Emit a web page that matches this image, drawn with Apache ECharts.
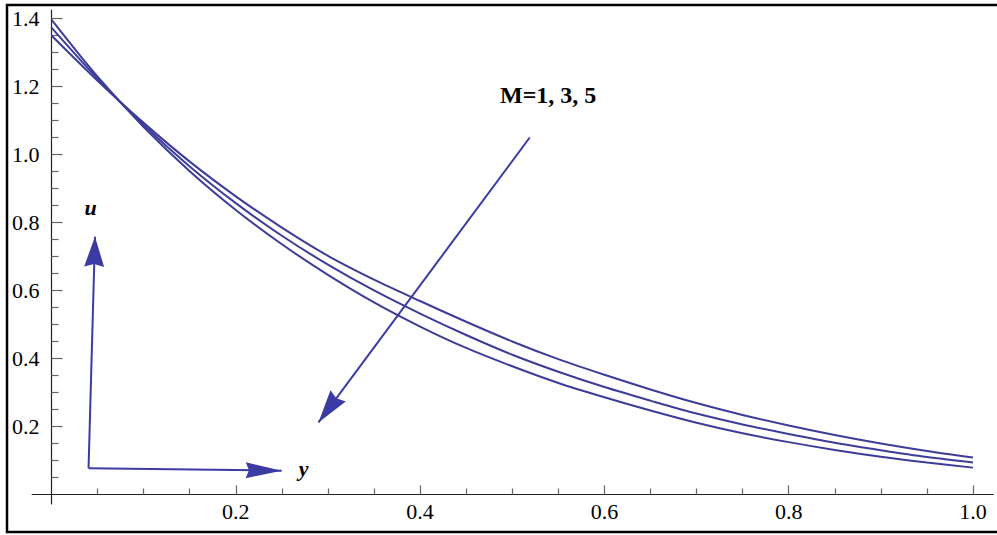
<!DOCTYPE html>
<html><head><meta charset="utf-8">
<script src="https://cdn.jsdelivr.net/npm/echarts@6/dist/echarts.min.js"></script>
<style>html,body{margin:0;padding:0;background:#fff}#c{width:997px;height:535px}</style>
</head><body><div id="c"></div>
<script>
// ---- data ----
const yPos = [0, 0.05, 0.1, 0.15, 0.2, 0.25, 0.3, 0.35, 0.4, 0.45, 0.5, 0.55, 0.6, 0.65, 0.7, 0.75, 0.8, 0.85, 0.9, 0.95, 1.0];
const uM1 = [1.350, 1.217, 1.093, 0.979, 0.877, 0.785, 0.702, 0.632, 0.569, 0.508, 0.450, 0.398, 0.352, 0.309, 0.269, 0.234, 0.203, 0.175, 0.150, 0.128, 0.109];
const uM3 = [1.373, 1.223, 1.087, 0.965, 0.857, 0.761, 0.676, 0.600, 0.532, 0.469, 0.411, 0.361, 0.316, 0.276, 0.238, 0.206, 0.178, 0.152, 0.130, 0.110, 0.094];
const uM5 = [1.397, 1.229, 1.081, 0.951, 0.837, 0.736, 0.646, 0.565, 0.494, 0.431, 0.377, 0.328, 0.286, 0.247, 0.211, 0.180, 0.154, 0.131, 0.111, 0.094, 0.079];

const xMajorTicks = [0.2, 0.4, 0.6, 0.8, 1.0];
const xMinorTicks = [0.05, 0.1, 0.15, 0.25, 0.3, 0.35, 0.45, 0.5, 0.55, 0.65, 0.7, 0.75, 0.85, 0.9, 0.95];
const yMajorTicks = [0.2, 0.4, 0.6, 0.8, 1.0, 1.2, 1.4];
const yMinorTicks = [0.05, 0.1, 0.15, 0.25, 0.3, 0.35, 0.45, 0.5, 0.55, 0.65, 0.7, 0.75, 0.85, 0.9, 0.95, 1.05, 1.1, 1.15, 1.25, 1.3, 1.35];

// annotation arrows (data coordinates): [from, to]
const arrowM = [[0.519, 1.05], [0.2897, 0.212]];
const arrowU = [[0.0402, 0.077], [0.0472, 0.758]];
const arrowY = [[0.0402, 0.077], [0.2498, 0.070]];
const labelM = {text: 'M=1, 3, 5', at: [0.539, 1.174]};
const labelU = {text: 'u', at: [0.0425, 0.845]};
const labelY = {text: 'y', at: [0.2735, 0.075]};

const xRange = [-0.021, 1.022];
const yRange = [-0.028, 1.425];

const lineColor = '#3d3d99';
const arrowColor = '#3b3ba3';
const serif = 'Liberation Serif';
const headPath = 'path://M10 0L20 33L10 30L0 33Z';

const chart = echarts.init(document.getElementById('c'), null, {renderer: 'svg'});
const fmt = v => Number(v).toFixed(1);

function arrowItem(seg, w, h) {
  return [
    {coord: seg[0], symbol: 'none'},
    {coord: seg[1], symbol: headPath, symbolSize: [w, h], symbolOffset: [0, h / 2]}
  ];
}
function textPoint(lbl, size, weight, style) {
  return {
    coord: lbl.at, symbol: 'circle', symbolSize: 0,
    label: {show: true, position: 'inside', formatter: lbl.text, color: '#000',
      fontFamily: serif, fontSize: size, fontWeight: weight, fontStyle: style}
  };
}
function curve(name, vals) {
  return {name: name, type: 'line', xAxisIndex: 0, yAxisIndex: 0, showSymbol: false, smooth: 0.3,
    data: yPos.map((x, i) => [x, vals[i]]), lineStyle: {color: lineColor, width: 2}, itemStyle: {color: lineColor}};
}

const s1 = curve('M=1', uM1);
s1.markLine = {silent: true, symbol: ['none', 'arrow'], label: {show: false},
  lineStyle: {color: arrowColor, width: 2, type: 'solid'}, itemStyle: {color: arrowColor},
  emphasis: {disabled: true},
  data: [arrowItem(arrowM, 19, 33), arrowItem(arrowU, 20, 30), arrowItem(arrowY, 16, 36)]};
s1.markPoint = {silent: true, data: [textPoint(labelM, 24, 'bold', 'normal'), textPoint(labelU, 22, 'bold', 'italic'), textPoint(labelY, 22, 'bold', 'italic')]};

const option = {
  animation: false,
  backgroundColor: '#fff',
  grid: {left: 32.15, right: 3.75, top: 10, bottom: 31, containLabel: false, outerBoundsMode: 'none'},
  xAxis: [
    {type: 'value', position: 'bottom', min: xRange[0], max: xRange[1],
      axisLine: {onZero: true, onZeroAxisIndex: 0, lineStyle: {color: '#222', width: 1.2}},
      axisTick: {inside: true, length: 9, customValues: xMajorTicks, lineStyle: {color: '#666', width: 1.2}},
      axisLabel: {customValues: xMajorTicks, formatter: fmt, margin: -3.5, color: '#000', fontFamily: serif, fontSize: 22},
      splitLine: {show: false}},
    {type: 'value', position: 'top', min: xRange[0], max: xRange[1],
      axisLine: {onZero: true, onZeroAxisIndex: 1, lineStyle: {color: '#222', width: 1, opacity: 0}},
      axisTick: {inside: false, length: 6, customValues: xMinorTicks, lineStyle: {color: '#666', width: 1.2}},
      axisLabel: {show: false},
      splitLine: {show: false}}
  ],
  yAxis: [
    {type: 'value', position: 'left', min: yRange[0], max: yRange[1],
      axisLine: {onZero: true, onZeroAxisIndex: 0, lineStyle: {color: '#222', width: 1.2}},
      axisTick: {inside: true, length: 11, customValues: yMajorTicks, lineStyle: {color: '#666', width: 1.2}},
      axisLabel: {customValues: yMajorTicks, formatter: fmt, margin: -7.4, color: '#000', fontFamily: serif, fontSize: 22},
      splitLine: {show: false}},
    {type: 'value', position: 'right', min: yRange[0], max: yRange[1],
      axisLine: {onZero: true, onZeroAxisIndex: 1, lineStyle: {color: '#222', width: 1, opacity: 0}},
      axisTick: {inside: false, length: 7, customValues: yMinorTicks, lineStyle: {color: '#666', width: 1.2}},
      axisLabel: {show: false},
      splitLine: {show: false}}
  ],
  graphic: [
    {type: 'rect', silent: true, z: 100, shape: {x: 7, y: 5, width: 992, height: 527},
      style: {fill: 'none', stroke: '#000', lineWidth: 2.5}}
  ],
  series: [s1, curve('M=3', uM3), curve('M=5', uM5)]
};
chart.setOption(option);
</script>
</body></html>
